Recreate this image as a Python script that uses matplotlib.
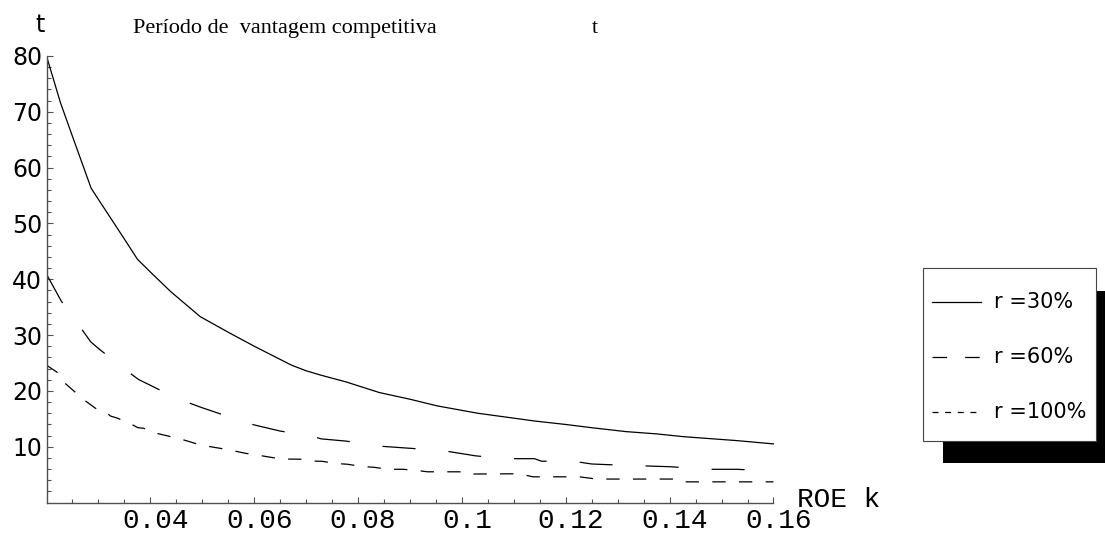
import numpy as np
import matplotlib
matplotlib.use("Agg")
import matplotlib.pyplot as plt
import matplotlib.transforms as mtransforms
from matplotlib.patches import Rectangle
from matplotlib.lines import Line2D

plt.rcParams['lines.scale_dashes'] = False

# ROE - k values and competitive advantage period t
r30_x = [0.02, 0.0227, 0.025, 0.0286, 0.030, 0.035, 0.0375, 0.040, 0.0439, 0.0496,
         0.055, 0.060, 0.0672, 0.070, 0.0729, 0.0777, 0.0841, 0.090, 0.0953, 0.103,
         0.114, 0.1198, 0.125, 0.1316, 0.1374, 0.1426, 0.1528, 0.160]
r30_t = [80, 71.6, 65.6, 56.3, 54.3, 47.2, 43.6, 41.3, 37.8, 33.3,
         30.5, 28.0, 24.6, 23.6, 22.8, 21.6, 19.7, 18.5, 17.3, 16.0,
         14.6, 14.0, 13.4, 12.7, 12.3, 11.8, 11.1, 10.5]

r60_x = [0.02, 0.0229, 0.025, 0.0285, 0.030, 0.035, 0.0378, 0.040, 0.045, 0.0496,
         0.055, 0.060, 0.065, 0.0711, 0.0729, 0.0777, 0.0841, 0.0902, 0.0963, 0.1027,
         0.1086, 0.114, 0.1153, 0.1214, 0.125, 0.1276, 0.1337, 0.1404, 0.1468, 0.153, 0.160]
r60_t = [40.9, 36.0, 33.4, 28.8, 27.6, 23.9, 22.0, 21.0, 18.7, 17.1,
         15.4, 13.9, 12.8, 11.9, 11.4, 11.0, 10.1, 9.7, 9.3, 8.35,
         7.85, 7.85, 7.4, 7.4, 6.9, 6.8, 6.6, 6.4, 5.95, 5.95, 5.6]

r100_x = [0.02, 0.0221, 0.0234, 0.0272, 0.0294, 0.0317, 0.0323, 0.0337, 0.0362, 0.0376,
          0.0387, 0.0412, 0.0439, 0.0461, 0.0486, 0.0509, 0.0535, 0.0558, 0.0584, 0.0606,
          0.0651, 0.069, 0.0707, 0.0731, 0.0756, 0.078, 0.0804, 0.0831, 0.0858, 0.0886,
          0.0908, 0.0934, 0.101, 0.1019, 0.111, 0.1137, 0.1226, 0.126, 0.1415, 0.1426, 0.160]
r100_t = [24.6, 23.3, 21.5, 18.4, 16.9, 16.0, 15.5, 15.1, 14.1, 13.4,
          13.3, 12.4, 11.8, 11.3, 10.6, 10.1, 9.7, 9.3, 8.8, 8.5,
          7.8, 7.75, 7.44, 7.38, 7.0, 6.85, 6.5, 6.3, 5.95, 5.95,
          5.8, 5.5, 5.5, 5.1, 5.15, 4.6, 4.6, 4.2, 4.2, 3.7, 3.7]

xticks = [0.04, 0.06, 0.08, 0.10, 0.12, 0.14, 0.16]
xticklabels = ['0.04', '0.06', '0.08', '0.1', '0.12', '0.14', '0.16']
yticks = [10, 20, 30, 40, 50, 60, 70, 80]
labels = ['r =30%', 'r =60%', 'r =100%']

W, H = 1105, 537
fig = plt.figure(figsize=(W / 100, H / 100), dpi=100)

def fx(px):
    return px / W

def fy(py):
    return 1 - py / H

ax = fig.add_axes([fx(46.5), fy(502.5), (773.5 - 46.5) / W, (502.5 - 56) / H])

axcol = '#505050'
ax.plot(r30_x, r30_t, color='black', lw=0.9, ls='-')
ax.plot(r60_x, r60_t, color='black', lw=0.9, ls=(0, (23.8, 23.8)))
ax.plot(r100_x, r100_t, color='black', lw=0.9, ls=(0, (9.6, 9.6)))

ax.set_xlim(0.02, 0.16)
ax.set_ylim(0, 80)
for s in ['top', 'right']:
    ax.spines[s].set_visible(False)
for s in ['left', 'bottom']:
    ax.spines[s].set_color(axcol)
    ax.spines[s].set_linewidth(1.0)

ax.set_xticks(xticks)
ax.set_xticklabels(xticklabels, family='Liberation Mono', fontsize=20)
ax.set_xticks(np.arange(0.025, 0.1551, 0.005), minor=True)
ax.set_yticks(yticks)
ax.set_yticklabels([str(v) for v in yticks], family='DejaVu Sans', fontsize=17)
ax.set_yticks(np.arange(2, 80, 2), minor=True)
ax.tick_params(axis='both', which='major', direction='in', length=4.5, width=0.8, color=axcol)
ax.tick_params(axis='both', which='minor', direction='in', length=3, width=0.8, color=axcol)
ax.tick_params(axis='x', which='major', pad=4)
ax.tick_params(axis='y', which='major', pad=3)

# shift x labels a bit to the right like the original
off = mtransforms.ScaledTranslation(5 / 100, 0, fig.dpi_scale_trans)
for lab in ax.get_xticklabels():
    lab.set_transform(lab.get_transform() + off)

# titles / axis labels
fig.text(fx(35), fy(32), 't', family='DejaVu Sans', fontsize=17, va='baseline', ha='left')
fig.text(fx(133), fy(33), 'Período de  vantagem competitiva', family='Liberation Serif',
         fontsize=16, va='baseline', ha='left')
fig.text(fx(592), fy(33), 't', family='Liberation Serif', fontsize=16, va='baseline', ha='left')
fig.text(fx(797), fy(507), 'ROE k', family='Liberation Mono', fontsize=20, va='baseline', ha='left')

# legend with black shadow
fig.patches.append(Rectangle((fx(942.7), fy(463.3)), fx(1105 - 942.7), (463.3 - 290.7) / H,
                             transform=fig.transFigure, facecolor='black', edgecolor='none', zorder=1))
fig.patches.append(Rectangle((fx(922.7), fy(441)), fx(1095.7 - 922.7), (441 - 268.3) / H,
                             transform=fig.transFigure, facecolor='white', edgecolor='#444444',
                             lw=0.8, zorder=2))
rows = [301.7, 356.7, 411.7]
styles = ['-', (0, (10.5, 13.0)), (0, (4.3, 4.8))]
for yy, st, lab in zip(rows, styles, labels):
    fig.lines.append(Line2D([fx(932), fx(980.7)], [fy(yy), fy(yy)], transform=fig.transFigure,
                            color='black', lw=0.9, ls=st, zorder=3))
    fig.text(fx(994), fy(yy), lab, family='DejaVu Sans', fontsize=15, va='center', ha='left',
             zorder=4)

fig.savefig('out.png', dpi=100)
